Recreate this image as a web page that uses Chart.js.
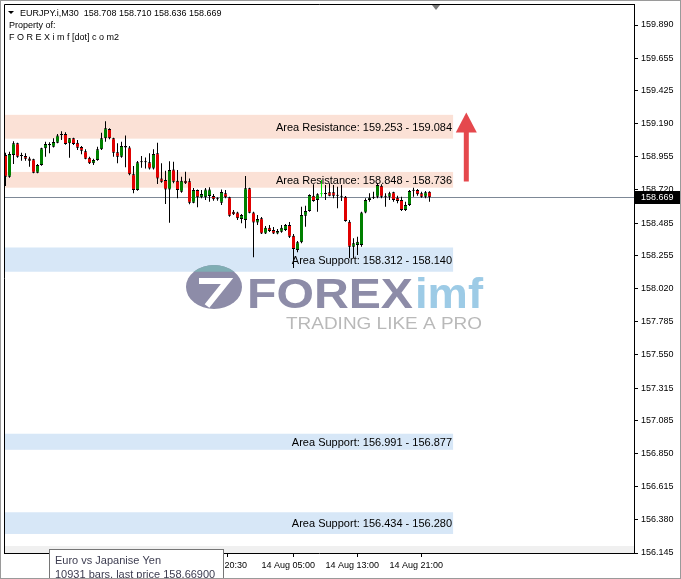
<!DOCTYPE html>
<html>
<head>
<meta charset="utf-8">
<title>EURJPY M30</title>
<script src="https://cdn.jsdelivr.net/npm/chart.js@4.4.1/dist/chart.umd.min.js"></script>
<style>
  html, body { margin: 0; padding: 0; background: #fff; }
  canvas { display: block; }
</style>
</head>
<body>
<canvas id="priceChart" width="681" height="579"></canvas>
<script>
// EURJPY.i M30 candles (bar 0 = oldest)
const opens = [
  158.968, 158.814, 158.968, 159.051, 158.961, 158.961, 158.944, 158.937, 158.842, 158.897,
  159.015, 159.046, 159.027, 159.055, 159.110, 159.117, 159.051, 159.086, 159.055, 159.024,
  158.994, 158.949, 158.909, 158.932, 159.008, 159.086, 159.152, 159.086, 158.987, 158.956,
  159.032, 159.022, 158.831, 158.720, 158.916, 158.916, 158.916, 158.873, 158.980, 158.802,
  158.790, 158.724, 158.866, 158.785, 158.707, 158.785, 158.781, 158.629, 158.720, 158.668,
  158.668, 158.677, 158.677, 158.654, 158.629, 158.696, 158.668, 158.566, 158.561, 158.514,
  158.507, 158.732, 158.561, 158.490, 158.519, 158.412, 158.452, 158.436, 158.412, 158.424,
  158.436, 158.471, 158.395, 158.294, 158.349, 158.537, 158.571, 158.679, 158.649, 158.689,
  158.691, 158.703, 158.703, 158.679, 158.679, 158.672, 158.495, 158.317, 158.329, 158.329,
  158.561, 158.649, 158.665, 158.672, 158.750, 158.672, 158.672, 158.703, 158.665, 158.649,
  158.578, 158.613, 158.715, 158.720, 158.696, 158.672, 158.708
];
const highs = [
  158.984, 158.991, 159.065, 159.055, 158.984, 158.980, 158.956, 158.942, 158.904, 159.020,
  159.062, 159.058, 159.086, 159.117, 159.136, 159.129, 159.088, 159.090, 159.074, 159.032,
  159.008, 158.956, 158.942, 159.027, 159.126, 159.207, 159.157, 159.090, 159.051, 159.062,
  159.107, 159.032, 158.890, 158.925, 158.961, 158.951, 158.980, 159.008, 159.055, 158.909,
  158.856, 158.923, 158.920, 158.861, 158.814, 158.849, 158.802, 158.734, 158.724, 158.720,
  158.734, 158.739, 158.691, 158.668, 158.724, 158.720, 158.672, 158.578, 158.566, 158.549,
  158.819, 158.736, 158.566, 158.542, 158.528, 158.464, 158.471, 158.457, 158.443, 158.471,
  158.478, 158.492, 158.407, 158.358, 158.601, 158.608, 158.689, 158.760, 158.696, 158.790,
  158.755, 158.767, 158.755, 158.743, 158.755, 158.677, 158.507, 158.377, 158.388, 158.566,
  158.661, 158.696, 158.707, 158.767, 158.760, 158.696, 158.707, 158.707, 158.679, 158.672,
  158.637, 158.720, 158.736, 158.727, 158.707, 158.712, 158.710
];
const lows = [
  158.748, 158.807, 158.904, 158.949, 158.927, 158.927, 158.885, 158.838, 158.838, 158.892,
  158.956, 158.980, 159.022, 159.051, 159.074, 159.041, 158.949, 159.039, 159.003, 158.973,
  158.937, 158.904, 158.897, 158.927, 159.003, 159.062, 159.079, 158.956, 158.909, 158.949,
  158.881, 158.824, 158.696, 158.715, 158.878, 158.873, 158.866, 158.866, 158.762, 158.771,
  158.620, 158.488, 158.767, 158.661, 158.700, 158.762, 158.618, 158.625, 158.597, 158.661,
  158.649, 158.637, 158.644, 158.644, 158.613, 158.661, 158.530, 158.542, 158.507, 158.483,
  158.448, 158.554, 158.242, 158.471, 158.407, 158.407, 158.422, 158.407, 158.405, 158.417,
  158.429, 158.379, 158.166, 158.278, 158.342, 158.459, 158.566, 158.637, 158.566, 158.672,
  158.649, 158.675, 158.661, 158.590, 158.642, 158.495, 158.235, 158.235, 158.259, 158.317,
  158.554, 158.637, 158.656, 158.661, 158.661, 158.601, 158.649, 158.637, 158.625, 158.571,
  158.571, 158.606, 158.672, 158.679, 158.665, 158.661, 158.636
];
const closes = [
  158.814, 158.975, 159.051, 158.956, 158.961, 158.942, 158.927, 158.842, 158.897, 159.015,
  159.046, 159.037, 159.060, 159.107, 159.110, 159.046, 159.086, 159.046, 159.020, 158.998,
  158.942, 158.909, 158.932, 159.008, 159.086, 159.157, 159.086, 158.984, 158.956, 159.032,
  159.022, 158.831, 158.720, 158.916, 158.916, 158.916, 158.873, 158.975, 158.802, 158.778,
  158.724, 158.861, 158.778, 158.720, 158.785, 158.767, 158.629, 158.720, 158.668, 158.691,
  158.724, 158.724, 158.654, 158.654, 158.705, 158.668, 158.537, 158.547, 158.519, 158.542,
  158.732, 158.559, 158.490, 158.514, 158.412, 158.452, 158.429, 158.412, 158.429, 158.452,
  158.471, 158.388, 158.301, 158.349, 158.542, 158.571, 158.684, 158.642, 158.689, 158.689,
  158.691, 158.679, 158.679, 158.679, 158.672, 158.500, 158.317, 158.342, 158.353, 158.561,
  158.649, 158.665, 158.672, 158.755, 158.672, 158.672, 158.696, 158.649, 158.642, 158.578,
  158.613, 158.712, 158.715, 158.689, 158.672, 158.703, 158.669
];
const markedBar = 79; // the highlighted (lime) bar

// axis ticks
const priceTicks = [159.890, 159.655, 159.425, 159.190, 158.955, 158.720, 158.485, 158.255,
                    158.020, 157.785, 157.550, 157.315, 157.085, 156.850, 156.615, 156.380, 156.145];
const timeTickBars = [47, 64, 80, 96];
const timeTicks = ['13 Aug 20:30', '14 Aug 05:00', '14 Aug 13:00', '14 Aug 21:00'];

// support / resistance areas
const zoneKind = ['Resistance', 'Resistance', 'Support', 'Support', 'Support'];
const zoneHigh = [159.253, 158.848, 158.312, 156.991, 156.434];
const zoneLow  = [159.084, 158.736, 158.140, 156.877, 156.280];
const zoneEndBar = 111.9;

// up arrow
const arrowBar = 115.2;
const arrowFrom = 158.78;
const arrowTo = 159.27;

const symbol = 'EURJPY.i,M30';
const last = opens.length - 1;
const lastPrice = closes[last];

Chart.defaults.font.family = "'Liberation Sans', Arial, sans-serif";
Chart.defaults.color = '#000';

const bodyColors = opens.map((o, i) =>
  i === markedBar ? '#00e600' : closes[i] > o ? '#008000' : closes[i] < o ? '#e00000' : '#000');
const edgeColors = opens.map((o, i) => i === markedBar ? '#00e600' : '#000');

function drawLogo(ctx, supportBottom) {
  ctx.save();
  // emblem
  ctx.beginPath();
  ctx.ellipse(214, 287, 28, 22, 0, 0, Math.PI * 2);
  ctx.fillStyle = '#8d8ca8';
  ctx.fill();
  ctx.clip();
  ctx.fillStyle = '#7fadb3';
  ctx.fillRect(180, 260, 70, supportBottom - 260);
  ctx.restore();
  ctx.save();
  ctx.strokeStyle = '#fff';
  ctx.lineWidth = 6;
  ctx.beginPath();
  ctx.moveTo(199, 281); ctx.lineTo(227, 281); ctx.lineTo(207, 306);
  ctx.stroke();

  const word = (txt, font, color, x, base, w) => {
    ctx.save();
    ctx.font = font;
    ctx.fillStyle = color;
    ctx.textBaseline = 'alphabetic';
    const m = ctx.measureText(txt).width;
    ctx.translate(x, base);
    ctx.scale(w / m, 1);
    ctx.fillText(txt, 0, 0);
    ctx.restore();
  };
  word('FOREX', "bold 43px 'Liberation Sans'", '#8d8ca8', 247, 308, 166);
  word('imf', "bold 43px 'Liberation Sans'", '#9dcbe6', 415, 308, 68);
  word('TRADING LIKE A PRO', "17px 'Liberation Sans'", '#b9b9b9', 286, 329, 196);
  ctx.restore();
}

const chartDecor = {
  id: 'chartDecor',
  beforeDatasetsDraw(chart) {
    const { ctx, chartArea: a, scales: { x, y } } = chart;
    ctx.save();
    const zx = x.getPixelForValue(zoneEndBar);
    zoneHigh.forEach((hi, k) => {
      const top = y.getPixelForValue(hi);
      const bot = y.getPixelForValue(zoneLow[k]);
      ctx.fillStyle = zoneKind[k] === 'Resistance' ? '#fbe1d6' : '#d7e7f7';
      ctx.fillRect(a.left + 1, top, zx - a.left - 1, bot - top);
    });
    ctx.fillStyle = '#f0f0f0';
    ctx.fillRect(a.left + 1, a.bottom - 7, a.right - a.left - 1, 7);
    drawLogo(ctx, y.getPixelForValue(zoneLow[2]));
    const py = Math.round(y.getPixelForValue(lastPrice)) + 0.5;
    ctx.strokeStyle = '#7d8896';
    ctx.lineWidth = 1;
    ctx.beginPath();
    ctx.moveTo(a.left, py);
    ctx.lineTo(a.right, py);
    ctx.stroke();
    ctx.restore();
  },
  afterDraw(chart) {
    const { ctx, chartArea: a, scales: { x, y } } = chart;
    ctx.save();

    // area labels
    const zx = x.getPixelForValue(zoneEndBar);
    ctx.font = "11px 'Liberation Sans'";
    ctx.fillStyle = '#000';
    ctx.textAlign = 'right';
    ctx.textBaseline = 'middle';
    zoneHigh.forEach((hi, k) => {
      const mid = (y.getPixelForValue(hi) + y.getPixelForValue(zoneLow[k])) / 2;
      ctx.fillText('Area ' + zoneKind[k] + ': ' + hi.toFixed(3) + ' - ' + zoneLow[k].toFixed(3), zx - 1, mid + 1);
    });

    // arrow
    const ax = x.getPixelForValue(arrowBar);
    const ay0 = y.getPixelForValue(arrowFrom);
    const ay1 = y.getPixelForValue(arrowTo);
    ctx.fillStyle = '#e5484d';
    ctx.fillRect(ax - 2.5, ay1 + 18, 5, ay0 - ay1 - 18);
    ctx.beginPath();
    ctx.moveTo(ax, ay1);
    ctx.lineTo(ax + 10.5, ay1 + 20);
    ctx.lineTo(ax - 10.5, ay1 + 20);
    ctx.closePath();
    ctx.fill();

    // frame
    ctx.strokeStyle = '#000';
    ctx.lineWidth = 1;
    ctx.beginPath();
    ctx.moveTo(a.left + 0.5, a.bottom);
    ctx.lineTo(a.left + 0.5, a.top + 0.5);
    ctx.lineTo(a.right, a.top + 0.5);
    ctx.stroke();

    // shift marker
    ctx.fillStyle = '#7a7a7a';
    ctx.beginPath();
    ctx.moveTo(432, 5); ctx.lineTo(440, 5); ctx.lineTo(436, 10);
    ctx.closePath();
    ctx.fill();

    // last price tag
    const py = Math.round(y.getPixelForValue(lastPrice));
    ctx.fillStyle = '#000';
    ctx.fillRect(a.right + 1, py - 6, 680 - a.right - 1, 13);
    ctx.fillStyle = '#fff';
    ctx.font = "9px 'Liberation Sans'";
    ctx.textAlign = 'left';
    ctx.textBaseline = 'middle';
    ctx.fillText(lastPrice.toFixed(3), a.right + 7, py + 1);

    // header
    ctx.fillStyle = '#000';
    ctx.beginPath();
    ctx.moveTo(8, 11); ctx.lineTo(14, 11); ctx.lineTo(11, 14);
    ctx.closePath();
    ctx.fill();
    ctx.textBaseline = 'alphabetic';
    ctx.fillText(symbol + '  ' + [opens[last], highs[last], lows[last], closes[last]].map(v => v.toFixed(3)).join(' '), 20, 16);
    ctx.fillText('Property of:', 9, 28);
    ctx.fillText('F O R E X i m f [dot] c o m2', 9, 40);

    // info box at the bottom
    ctx.fillStyle = '#fff';
    ctx.strokeStyle = '#767676';
    ctx.fillRect(49.5, 549.5, 174, 40);
    ctx.strokeRect(49.5, 549.5, 174, 40);
    ctx.fillStyle = '#3c3c50';
    ctx.font = "11px 'Liberation Sans'";
    ctx.fillText('Euro vs Japanise Yen', 55, 564);
    ctx.fillText('10931 bars, last price 158.66900', 55, 578);

    // window border
    ctx.strokeStyle = '#9a9a9a';
    ctx.strokeRect(0.5, 0.5, 680, 578);
    ctx.restore();
  }
};

const ctx = document.getElementById('priceChart').getContext('2d');
const priceChart = new Chart(ctx, {
  type: 'bar',
  data: {
    datasets: [
      {
        label: 'Body',
        data: opens.map((o, i) => ({ x: i, y: [o, closes[i]] })),
        backgroundColor: bodyColors,
        borderColor: edgeColors,
        borderWidth: { top: 1, bottom: 1, left: 0, right: 0 },
        borderSkipped: false,
        barThickness: 3,
        minBarLength: 1,
        inflateAmount: 0,
        grouped: false,
        order: 1
      },
      {
        label: 'Wick',
        data: highs.map((h, i) => ({ x: i, y: [lows[i], h] })),
        backgroundColor: edgeColors,
        borderWidth: 0,
        barThickness: 1,
        inflateAmount: 0,
        grouped: false,
        order: 2
      }
    ]
  },
  options: {
    responsive: false,
    animation: false,
    events: [],
    layout: { padding: { left: 4, top: 4, right: 0, bottom: 0 } },
    plugins: { legend: { display: false }, tooltip: { enabled: false } },
    scales: {
      x: {
        type: 'linear',
        min: -0.375,
        max: 157.125,
        offset: false,
        bounds: 'data',
        afterBuildTicks: s => { s.ticks = timeTickBars.map(v => ({ value: v })); },
        afterFit: s => { s.height = 26; s.paddingLeft = 0; s.paddingRight = 0; },
        ticks: {
          autoSkip: false,
          maxRotation: 0,
          align: 'start',
          padding: 3,
          font: { size: 9 },
          callback: v => timeTicks[timeTickBars.indexOf(v)]
        },
        grid: { drawOnChartArea: false, tickLength: 4, color: '#000' },
        border: { color: '#000' }
      },
      y: {
        position: 'right',
        min: 156.145,
        max: 160.039,
        bounds: 'data',
        afterBuildTicks: s => { s.ticks = priceTicks.map(v => ({ value: v })); },
        afterFit: s => { s.width = 47; s.paddingTop = 0; s.paddingBottom = 0; },
        ticks: {
          autoSkip: false,
          padding: 3,
          font: { size: 9 },
          callback: v => v.toFixed(3)
        },
        grid: { drawOnChartArea: false, tickLength: 4, color: '#000' },
        border: { color: '#000' }
      }
    }
  },
  plugins: [chartDecor]
});
</script>
</body>
</html>
